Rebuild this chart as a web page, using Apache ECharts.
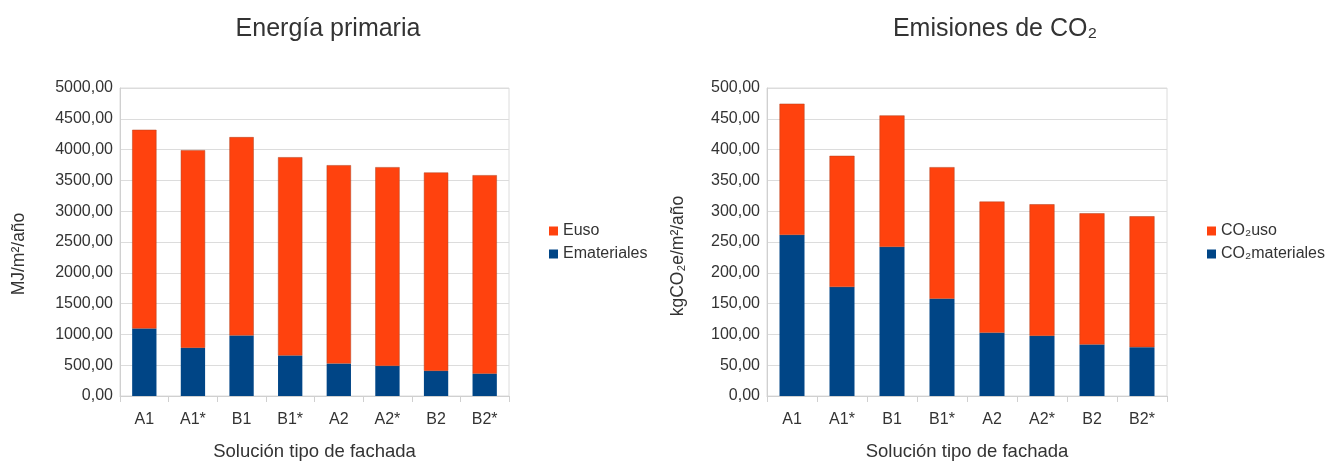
<!DOCTYPE html>
<html>
<head>
<meta charset="utf-8">
<script src="https://cdn.jsdelivr.net/npm/echarts@6/dist/echarts.min.js"></script>
<style>
html,body{margin:0;padding:0;background:#fff;}
#c{width:1330px;height:463px;}
</style>
</head>
<body>
<div id="c"></div>
<script>
const categories = ['A1','A1*','B1','B1*','A2','A2*','B2','B2*'];
const eMateriales = [1095, 781, 982, 656, 526, 488, 407, 363];
const eUso = [3227, 3210, 3221, 3221, 3221, 3227, 3221, 3222];
const co2Materiales = [261.4, 176.8, 241.9, 157.8, 102.5, 97.6, 83.5, 79.2];
const co2Uso = [213.1, 213.1, 213.6, 213.7, 213.1, 213.7, 213.1, 212.6];

const FONT = '"Liberation Sans", Arial, sans-serif';
const TXT = '#333';
const BLUE = '#004586';
const ORANGE = '#ff420e';

const fmt = v => v.toFixed(2).replace('.', ',');

function xAxis(gi) {
  return {
    type: 'category', gridIndex: gi, data: categories,
    name: 'Solución tipo de fachada', nameLocation: 'middle', nameGap: 46,
    nameTextStyle: {fontFamily: FONT, fontSize: 18.5, color: TXT},
    axisLine: {lineStyle: {color: '#d0d0d0'}},
    axisTick: {show: true, length: 6, lineStyle: {color: '#d0d0d0'}},
    axisLabel: {fontFamily: FONT, fontSize: 16, color: TXT, margin: 16}
  };
}
function yAxis(gi, max, interval, name, gap, shift) {
  return {
    type: 'value', gridIndex: gi, min: 0, max: max, interval: interval,
    name: name, nameLocation: 'middle', nameGap: gap,
    nameTextStyle: {fontFamily: FONT, fontSize: 17.5, color: TXT, padding: [0, shift, 0, 0]},
    axisLine: {show: true, lineStyle: {color: '#d0d0d0'}},
    axisTick: {show: false},
    splitLine: {lineStyle: {color: '#dcdcdc'}},
    axisLabel: {fontFamily: FONT, fontSize: 16, color: TXT, margin: 7, formatter: fmt}
  };
}

const legendCommon = {
  orient: 'vertical', top: 218, itemWidth: 9, itemHeight: 9, itemGap: 7, icon: 'rect',
  itemStyle: {borderWidth: 0},
  textStyle: {fontFamily: FONT, fontSize: 16, color: TXT}
};

const chart = echarts.init(document.getElementById('c'));
chart.setOption({
  animation: false,
  backgroundColor: '#fff',
  title: [
    {text: 'Energía primaria', left: 323, top: 12, textAlign: 'center',
     textStyle: {fontFamily: FONT, fontSize: 25, fontWeight: 'normal', color: TXT}},
    {text: 'Emisiones de CO₂', left: 990, top: 12, textAlign: 'center',
     textStyle: {fontFamily: FONT, fontSize: 25, fontWeight: 'normal', color: TXT}}
  ],
  legend: [
    Object.assign({data: ['Euso', 'Emateriales'], left: 544}, legendCommon),
    Object.assign({data: ['CO₂uso', 'CO₂materiales'], left: 1202}, legendCommon)
  ],
  grid: [
    {left: 120, top: 88, width: 389, height: 308, outerBoundsMode: 'none', containLabel: false,
     show: true, borderColor: '#dcdcdc', borderWidth: 1, backgroundColor: 'transparent'},
    {left: 767, top: 88, width: 400, height: 308, outerBoundsMode: 'none', containLabel: false,
     show: true, borderColor: '#dcdcdc', borderWidth: 1, backgroundColor: 'transparent'}
  ],
  xAxis: [xAxis(0), xAxis(1)],
  yAxis: [yAxis(0, 5000, 500, 'MJ/m²/año', 92, 24), yAxis(1, 500, 50, 'kgCO₂e/m²/año', 80, 28)],
  series: [
    {name: 'Emateriales', type: 'bar', stack: 'a', xAxisIndex: 0, yAxisIndex: 0, data: eMateriales,
     barWidth: '50%', itemStyle: {color: BLUE}},
    {name: 'Euso', type: 'bar', stack: 'a', xAxisIndex: 0, yAxisIndex: 0, data: eUso,
     barWidth: '50%', itemStyle: {color: ORANGE, borderColor: '#b0401e', borderWidth: 0.5}},
    {name: 'CO₂materiales', type: 'bar', stack: 'b', xAxisIndex: 1, yAxisIndex: 1, data: co2Materiales,
     barWidth: '50%', itemStyle: {color: BLUE}},
    {name: 'CO₂uso', type: 'bar', stack: 'b', xAxisIndex: 1, yAxisIndex: 1, data: co2Uso,
     barWidth: '50%', itemStyle: {color: ORANGE, borderColor: '#b0401e', borderWidth: 0.5}}
  ]
});
</script>
</body>
</html>
